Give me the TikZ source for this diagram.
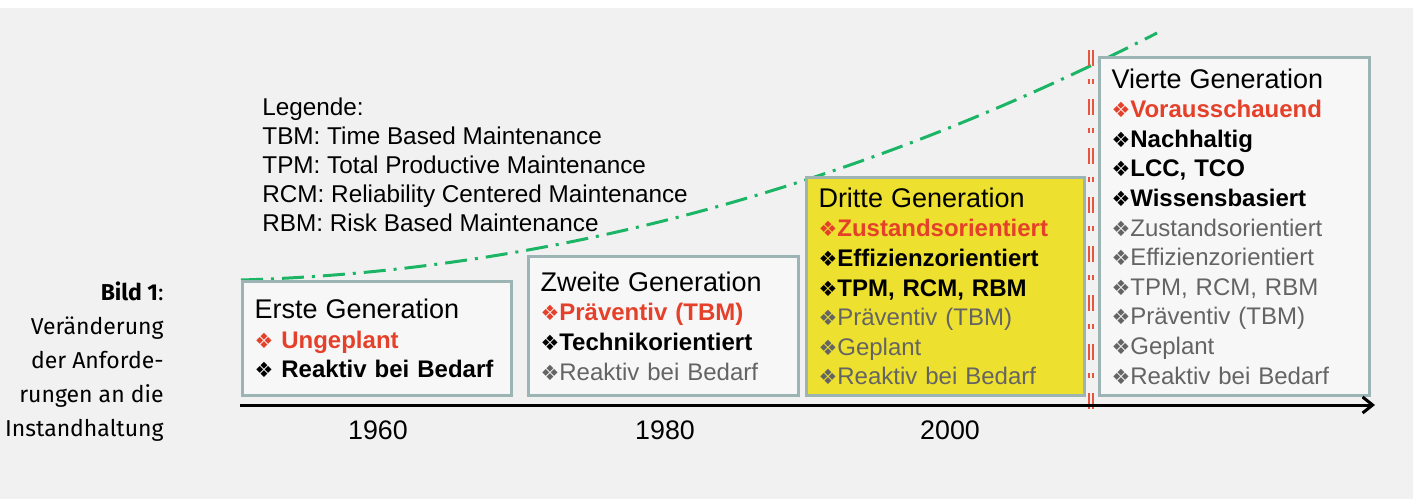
\documentclass[tikz,border=0pt]{standalone}
\usepackage{fontspec}
\setmainfont{Liberation Sans}
\newfontfamily\symfont{DejaVu Sans}
\newfontfamily\capfont{Fira Sans}
\usepackage{xcolor}
\usetikzlibrary{positioning, arrows.meta, calc}

\definecolor{bggray}{HTML}{F1F1F1}
\definecolor{boxgray}{HTML}{F7F7F7}
\definecolor{rimgray}{HTML}{9DB4B5}
\definecolor{genyellow}{HTML}{EEE02E}
\definecolor{genred}{HTML}{E5402A}
\definecolor{oldgray}{HTML}{646464}
\definecolor{curvegreen}{HTML}{1CB566}
\definecolor{cutred}{HTML}{E8553F}

% bullet and the three kinds of lines in a generation box
\newcommand{\bul}{{\symfont\mdseries\fontsize{10.5pt}{10.5pt}\selectfont ❖}}
\newcommand{\gtitle}[1]{{\fontsize{13.5pt}{14.8pt}\selectfont #1}}
\newcommand{\neu}[1]{{\color{genred}\bfseries\bul#1}}
\newcommand{\akt}[1]{{\bfseries\bul#1}}
\newcommand{\vor}[1]{{\color{oldgray}\bul#1}}

\tikzset{
  genbox/.style={draw=rimgray, line width=1.5pt, fill=boxgray, anchor=south west,
    align=left, inner xsep=6pt, inner ysep=0pt,
    font=\fontsize{12pt}{14.8pt}\selectfont},
  year/.style={font=\fontsize{13.4pt}{13.4pt}\selectfont, inner sep=0pt},
  trend/.style={curvegreen, line width=1.5pt,
    dash pattern=on 11pt off 4pt on 1.5pt off 4pt},
  cutline/.style={cutred, line width=0.75pt,
    dash pattern=on 8pt off 6.5pt on 2.5pt off 7.5pt},
  axisline/.style={line width=1.5pt, -{Straight Barb[length=5pt,width=8pt]}}
}

\begin{document}
\begin{tikzpicture}[x=0.5pt, y=-0.5pt]

% page and background
\useasboundingbox (0,0) rectangle (1422,499);
\fill[bggray] (0,8) rectangle (1413,499);

% growing requirements
\coordinate (g0) at (241,280);
\coordinate (g1) at (1157,33);
\draw[trend] (g0) .. controls (546,271) and (852,189) .. (g1);

% cut before the fourth generation
\coordinate (c0) at (1091,50);
\coordinate (c1) at (1091,421);
\draw[cutline] ($(c0)+(-1.8,0)$) -- ($(c1)+(-1.8,0)$);
\draw[cutline] ($(c0)+(1.8,0)$) -- ($(c1)+(1.8,0)$);

% legend
\node[anchor=north west, align=left, inner sep=0pt,
  font=\fontsize{12.15pt}{14.6pt}\selectfont] (legende) at (262,97)
  {Legende:\\
   TBM: Time Based Maintenance\\
   TPM: Total Productive Maintenance\\
   RCM: Reliability Centered Maintenance\\
   RBM: Risk Based Maintenance};

% generations
\node[genbox, text width=122.5pt, minimum height=57pt] (gen1) at (241,397)
  {\gtitle{Erste Generation}\\
   \neu{~Ungeplant}\\
   \akt{~Reaktiv bei Bedarf}};
\node[genbox, text width=123pt, minimum height=69.5pt] (gen2) at (527,397)
  {\gtitle{Zweite Generation}\\
   \neu{Präventiv (TBM)}\\
   \akt{Technikorientiert}\\
   \vor{Reaktiv bei Bedarf}};
\node[genbox, fill=genyellow, text width=127pt, minimum height=109pt] (gen3) at (805,397)
  {\gtitle{Dritte Generation}\\
   \neu{Zustandsorientiert}\\
   \akt{Effizienzorientiert}\\
   \akt{TPM, RCM, RBM}\\
   \vor{Präventiv (TBM)}\\
   \vor{Geplant}\\
   \vor{Reaktiv bei Bedarf}};
\node[genbox, text width=123pt, minimum height=169pt] (gen4) at (1098,397)
  {\gtitle{Vierte Generation}\\
   \neu{Vorausschauend}\\
   \akt{Nachhaltig}\\
   \akt{LCC, TCO}\\
   \akt{Wissensbasiert}\\
   \vor{Zustandsorientiert}\\
   \vor{Effizienzorientiert}\\
   \vor{TPM, RCM, RBM}\\
   \vor{Präventiv (TBM)}\\
   \vor{Geplant}\\
   \vor{Reaktiv bei Bedarf}};

% time axis
\coordinate (t0) at (240,405);
\coordinate (t1) at (1375,405);
\draw[axisline] (t0) -- (t1);
\node[year] (j1960) at (378,430) {1960};
\node[year] (j1980) at (665,430) {1980};
\node[year] (j2000) at (950,430) {2000};

% caption
\node[anchor=north east, align=right, inner sep=0pt,
  font=\capfont\fontsize{11.5pt}{17pt}\selectfont] (bild) at (164,281)
  {\textbf{Bild 1}:\\Veränderung\\der Anforde-\\rungen an die\\Instandhaltung};

\end{tikzpicture}
\end{document}
